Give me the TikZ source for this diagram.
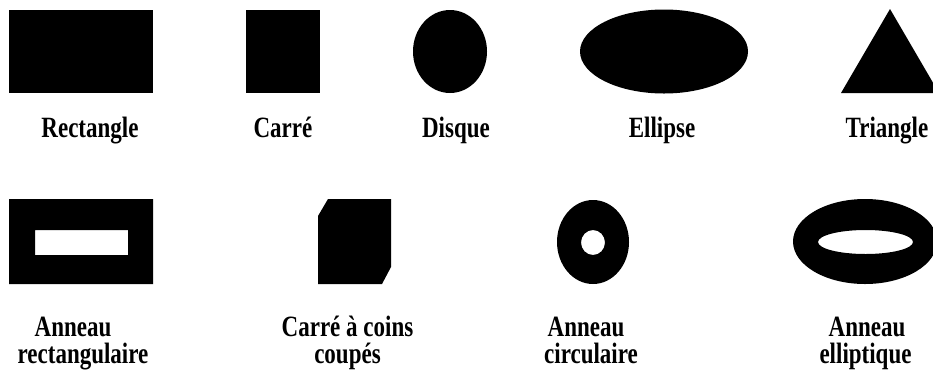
\documentclass[tikz,border=0pt]{standalone}
\usepackage{fontspec}
\setmainfont{Liberation Serif}
\usepackage{graphicx}
\newcommand\shplbl[1]{\scalebox{1}[1.28]{#1}}
\tikzset{
  shp/.style={fill=black, draw=none},
  lbl/.style={anchor=base, inner sep=0pt, font=\fontsize{23}{27}\selectfont\bfseries}
}
\begin{document}
\begin{tikzpicture}[x=1pt,y=-1pt]
\useasboundingbox (0,0) rectangle (933,376);
\clip (0,0) rectangle (933,376);
% row 1 shapes
\fill[shp] (9,10) rectangle (153,93);
\fill[shp] (246,10) rectangle (320,93);
\fill[shp] (450,51.5) ellipse [x radius=37, y radius=41.5];
\fill[shp] (664,51.5) ellipse [x radius=84, y radius=42];
\fill[shp] (841,93) -- (890,9) -- (939,93) -- cycle;
% row 1 labels
\node[lbl] (l1) at (90,137) {\shplbl{Rectangle}};
\node[lbl] (l2) at (283,137) {\shplbl{Carré}};
\node[lbl] (l3) at (456,137) {\shplbl{Disque}};
\node[lbl] (l4) at (662,137) {\shplbl{Ellipse}};
\node[lbl] (l5) at (887,137) {\shplbl{Triangle}};
% row 2 shapes
\fill[shp, even odd rule] (9,199) rectangle (153,284) (35,230) rectangle (128,255);
\fill[shp] (318,216) -- (328,199) -- (391,199) -- (391,267) -- (382,284) -- (318,284) -- cycle;
\fill[shp, even odd rule] (593,242) ellipse [x radius=36, y radius=42]
  (593,242.5) ellipse [x radius=12, y radius=12.5];
\fill[shp, even odd rule] (865,241.5) ellipse [x radius=72, y radius=42.5]
  (865.5,242) ellipse [x radius=47.5, y radius=12];
% row 2 labels
\node[lbl] (m1a) at (73,336) {\shplbl{Anneau}};
\node[lbl] (m1b) at (83,363) {\shplbl{rectangulaire}};
\node[lbl] (m2a) at (347.5,336) {\shplbl{Carré à coins}};
\node[lbl] (m2b) at (347.5,363) {\shplbl{coupés}};
\node[lbl] (m3a) at (586,336) {\shplbl{Anneau}};
\node[lbl] (m3b) at (591,363) {\shplbl{circulaire}};
\node[lbl] (m4a) at (867,336) {\shplbl{Anneau}};
\node[lbl] (m4b) at (865.5,363) {\shplbl{elliptique}};
\end{tikzpicture}
\end{document}
